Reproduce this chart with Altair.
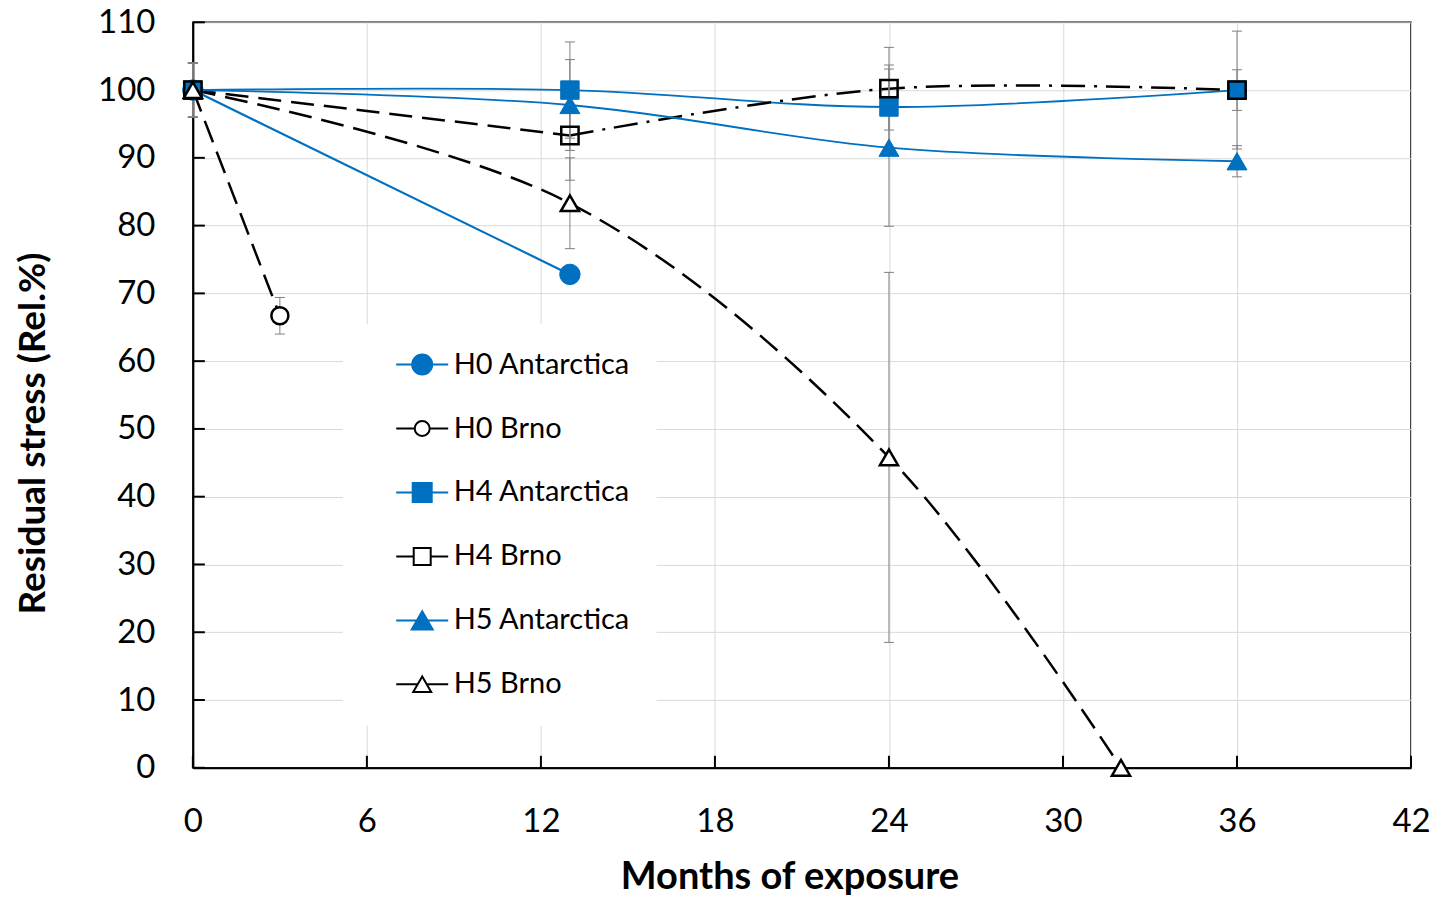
import altair as alt
import pandas as pd

# ---------------- data ----------------
series_names = ["H0 Antarctica", "H0 Brno", "H4 Antarctica", "H4 Brno", "H5 Antarctica", "H5 Brno"]

h0_ant_months = [0, 13]
h0_ant_values = [100, 72.8]
h0_ant_err = [4, 0]

h0_brno_months = [0, 3]
h0_brno_values = [100, 66.7]
h0_brno_err = [4, 2.7]

h4_ant_months = [0, 13, 24, 36]
h4_ant_values = [100, 100, 97.5, 100]
h4_ant_err = [4, 7.1, 6.2, 8.7]

h4_brno_months = [0, 13, 24, 36]
h4_brno_values = [100, 93.3, 100.2, 100]
h4_brno_err = [4, 6.6, 6.1, 3.0]

h5_ant_months = [0, 13, 24, 36]
h5_ant_values = [100, 97.8, 91.5, 89.5]
h5_ant_err = [4, 6.7, 11.6, 2.3]

h5_brno_months = [0, 13, 24, 32]
h5_brno_values = [100, 83.3, 45.8, 0]
h5_brno_err = [4, 6.7, 27.3, 0]

x_ticks = [0, 6, 12, 18, 24, 30, 36, 42]
y_ticks = [0, 10, 20, 30, 40, 50, 60, 70, 80, 90, 100, 110]

# ---------------- styles ----------------
BLUE = "#0070C0"
BLACK = "#000000"
FONT = "Lato"
DASH = [23, 10]
DASHDOT = [24, 9, 3, 9]

styles = {
    "H0 Antarctica": dict(color=BLUE, width=2.2, dash=None, shape="circle", fill=BLUE, stroke=BLUE, size=420, sw=1),
    "H0 Brno": dict(color=BLACK, width=2.5, dash=DASH, shape="circle", fill="white", stroke=BLACK, size=290, sw=2.5),
    "H4 Antarctica": dict(color=BLUE, width=1.8, dash=None, shape="square", fill=BLUE, stroke=BLUE, size=340, sw=1),
    "H4 Brno": dict(color=BLACK, width=2.5, dash=DASH, shape="square", fill="transparent", stroke=BLACK, size=300, sw=2.5),
    "H5 Antarctica": dict(color=BLUE, width=1.8, dash=None, shape="triangle-up", fill=BLUE, stroke=BLUE, size=400, sw=1),
    "H5 Brno": dict(color=BLACK, width=2.5, dash=DASH, shape="triangle-up", fill="white", stroke=BLACK, size=330, sw=2.5),
}

raw = {
    "H0 Antarctica": (h0_ant_months, h0_ant_values, h0_ant_err),
    "H0 Brno": (h0_brno_months, h0_brno_values, h0_brno_err),
    "H4 Antarctica": (h4_ant_months, h4_ant_values, h4_ant_err),
    "H4 Brno": (h4_brno_months, h4_brno_values, h4_brno_err),
    "H5 Antarctica": (h5_ant_months, h5_ant_values, h5_ant_err),
    "H5 Brno": (h5_brno_months, h5_brno_values, h5_brno_err),
}

frames = {}
for name, (m, v, e) in raw.items():
    df = pd.DataFrame({"month": m, "value": v, "err": e})
    df["lo"] = df["value"] - df["err"]
    df["hi"] = df["value"] + df["err"]
    df["series"] = name
    frames[name] = df

# ---------------- scales / axes ----------------
xscale = alt.Scale(domain=[0, 42], nice=False, zero=False)
yscale = alt.Scale(domain=[0, 110], nice=False, zero=False)

xaxis = alt.Axis(
    values=x_ticks, title="Months of exposure", grid=True, gridColor="#d9d9d9", gridWidth=1,
    domainColor=BLACK, domainWidth=2, tickSize=0, labelPadding=38, labelFlush=False,
    labelFont=FONT, labelFontSize=33, labelColor=BLACK, labelOverlap=False,
    titleFont=FONT, titleFontSize=38, titleFontWeight="bold", titleColor=BLACK,
    titleX=597, titleY=121, titleBaseline="alphabetic", titleAlign="center", format="d",
)
yaxis = alt.Axis(
    values=y_ticks, title="Residual stress (Rel.%)", grid=True, gridColor="#d9d9d9", gridWidth=1,
    domainColor=BLACK, domainWidth=2, tickSize=0, labelPadding=38, labelFlush=False,
    labelFont=FONT, labelFontSize=33, labelColor=BLACK, labelOverlap=False,
    titleFont=FONT, titleFontSize=37, titleFontWeight="bold", titleColor=BLACK,
    titleX=-148, titleY=411, titleAngle=-90, titleBaseline="alphabetic", titleAlign="center", format="d",
)


def X(field="month"):
    return alt.X(f"{field}:Q", scale=xscale, axis=xaxis)


def Y(field="value"):
    return alt.Y(f"{field}:Q", scale=yscale, axis=yaxis)


layers = []

# inner tick marks
xt = pd.DataFrame({"month": x_ticks})
yt = pd.DataFrame({"value": y_ticks})
layers.append(alt.Chart(xt).mark_rule(color=BLACK, strokeWidth=2).encode(
    x=X(), y=alt.value(746), y2=alt.value(734)))
layers.append(alt.Chart(yt).mark_rule(color=BLACK, strokeWidth=2).encode(
    y=Y(), x=alt.value(0), x2=alt.value(12)))

# lines
for name in series_names:
    st = styles[name]
    df = frames[name]
    if name == "H4 Brno":
        parts = [(df[df["month"] <= 13], DASH), (df[df["month"] >= 13], DASHDOT)]
    else:
        parts = [(df, st["dash"])]
    for part, dash in parts:
        kw = dict(color=st["color"], strokeWidth=st["width"], interpolate="catmull-rom")
        if dash:
            kw["strokeDash"] = dash
        layers.append(alt.Chart(part).mark_line(**kw).encode(x=X(), y=Y()))

# error bars
for name in series_names:
    df = frames[name]
    df = df[df["err"] > 0]
    layers.append(alt.Chart(df).mark_rule(color="#7f7f7f", strokeWidth=1).encode(
        x=X(), y=Y("lo"), y2=alt.Y2("hi:Q")))
    for f in ["lo", "hi"]:
        layers.append(alt.Chart(df).mark_tick(color="#7f7f7f", thickness=1, size=10, orient="horizontal", opacity=1).encode(
            x=X(), y=Y(f)))

# markers
for name in series_names:
    st = styles[name]
    layers.append(alt.Chart(frames[name]).mark_point(
        shape=st["shape"], filled=True, fill=st["fill"], stroke=st["stroke"],
        strokeWidth=st["sw"], size=st["size"], opacity=1,
    ).encode(x=X(), y=Y()))

# legend (line + marker symbols as custom paths)
L = 2.6


def circ(r):
    return f"M{-L},0L{-r},0M{r},0L{L},0M{r},0A{r},{r},0,1,1,{-r},0A{r},{r},0,1,1,{r},0Z"


def sq(s):
    return f"M{-L},0L{-s},0M{s},0L{L},0M{-s},{-s}L{s},{-s}L{s},{s}L{-s},{s}Z"


def tri(r):
    h = round(0.866 * r, 3)
    e = round(r / 2, 3)
    return f"M{-L},0L{-e},0M{e},0L{L},0M0,{-h}L{r},{h}L{-r},{h}Z"


legend_paths = [circ(1), circ(0.75), sq(0.95), sq(0.85), tri(1.05), tri(0.9)]
legend_fills = [BLUE, "white", BLUE, "white", BLUE, "white"]
legend_strokes = [BLUE, BLACK, BLUE, BLACK, BLUE, BLACK]

leg = alt.Legend(
    orient="none", legendX=150, legendY=302, title=None, fillColor="white", padding=26,
    rowPadding=34, symbolOffset=39, labelOffset=17, labelFont=FONT, labelFontSize=29,
    labelColor=BLACK, symbolSize=400, symbolStrokeWidth=2, labelLimit=500,
)
legend_df = pd.DataFrame({"series": series_names})
layers.append(alt.Chart(legend_df).transform_filter("false").mark_point(
    filled=True, opacity=1, size=400, strokeWidth=2
).encode(
    x=alt.value(0), y=alt.value(0),
    shape=alt.Shape("series:N", scale=alt.Scale(domain=series_names, range=legend_paths), legend=leg),
    fill=alt.Fill("series:N", scale=alt.Scale(domain=series_names, range=legend_fills), legend=leg),
    stroke=alt.Stroke("series:N", scale=alt.Scale(domain=series_names, range=legend_strokes), legend=leg),
))

chart = alt.layer(*layers).properties(
    width=1219, height=746,
    autosize=alt.AutoSizeParams(type="none"),
    padding={"left": 185, "top": 14, "right": 22, "bottom": 130},
    background="white",
).configure_view(stroke=BLACK, strokeWidth=1.5)

chart.save("out.html", embed_options={"renderer": "svg", "actions": False})
